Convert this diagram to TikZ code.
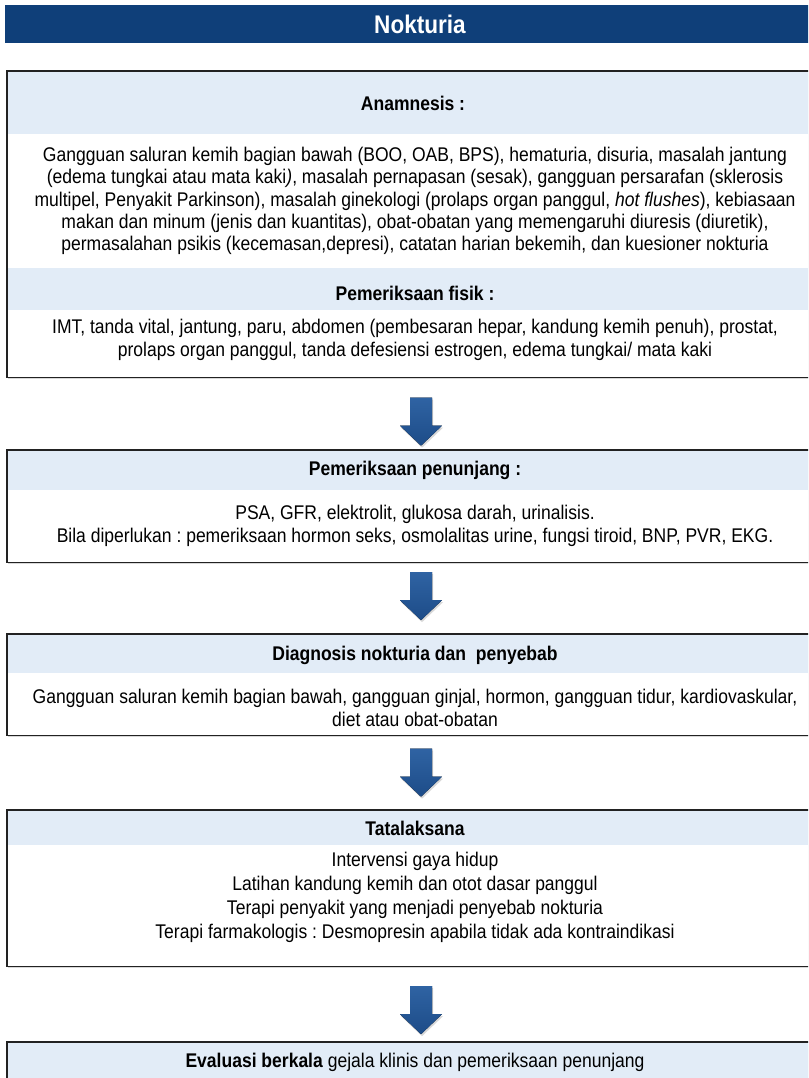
\documentclass[tikz,border=0pt]{standalone}
\usepackage{fontspec}
\setmainfont{Liberation Sans}[FakeStretch=0.885]
\frenchspacing
\usetikzlibrary{shadows,calc}
\definecolor{titleblue}{HTML}{0F3F79}
\definecolor{bandblue}{HTML}{E2ECF7}
\definecolor{arrowtop}{HTML}{2F63A3}
\definecolor{arrowbot}{HTML}{1D4C88}
\definecolor{boxline}{HTML}{222222}
\tikzset{
  band/.style={fill=bandblue, draw=none},
  boxbase/.style={draw=none, fill=white, inner sep=0pt, anchor=north west, minimum width=830pt,
     drop shadow={opacity=0.3, shadow xshift=0.8pt, shadow yshift=-1.6pt}},
  frame/.style={draw=boxline, line width=1.4pt},
  head/.style={font=\bfseries\fontsize{19.8}{22}\selectfont, anchor=center},
  body/.style={font=\fontsize{19.8}{22.4}\selectfont, align=center, anchor=center, inner sep=0pt},
  bigarrow/.style={top color=arrowtop, bottom color=arrowbot, draw=none,
     drop shadow={opacity=0.3, shadow xshift=1pt, shadow yshift=-2pt}},
}
\begin{document}
\begin{tikzpicture}[x=1pt, y=-1pt]
\clip (0,0) rectangle (808,1078);
\fill[white] (0,0) rectangle (808,1078);
% title
\node[fill=titleblue, draw=none, inner sep=0pt, anchor=north west, minimum width=830pt, minimum height=38pt] (title) at (5,5) {};
\node[text=white, font=\bfseries\fontsize{25.5}{28}\selectfont] (titletext) at (420,24) {Nokturia};

% box 1
\node[boxbase, minimum height=306pt] (b1) at (7,71) {};
\fill[band] (b1.north west) rectangle (830,134);
\fill[band] (7,268) rectangle (830,310);
\draw[frame] (b1.north west) rectangle (b1.south east);
\node[head] (h1) at (413,103) {Anamnesis :};
\node[body] (t1) at (415,201) {Gangguan saluran kemih bagian bawah (BOO, OAB, BPS), hematuria, disuria, masalah jantung\\
(edema tungkai atau mata kaki\textit{)}, masalah pernapasan (sesak), gangguan persarafan (sklerosis\\
multipel, Penyakit Parkinson), masalah ginekologi (prolaps organ panggul, \textit{hot flushes}), kebiasaan\\
makan dan minum (jenis dan kuantitas), obat-obatan yang memengaruhi diuresis (diuretik),\\
permasalahan psikis (kecemasan,depresi), catatan harian bekemih, dan kuesioner nokturia};
\node[head] (h1b) at (415,293) {Pemeriksaan fisik :};
\node[body] (t1b) at (415,340) {IMT, tanda vital, jantung, paru, abdomen (pembesaran hepar, kandung kemih penuh), prostat,\\
prolaps organ panggul, tanda defesiensi estrogen, edema tungkai/ mata kaki};

% box 2
\node[boxbase, minimum height=112pt] (b2) at (7,450) {};
\fill[band] (b2.north west) rectangle (830,490);
\draw[frame] (b2.north west) rectangle (b2.south east);
\node[head] (h2) at (415,470) {Pemeriksaan penunjang :};
\node[body] (t2) at (415,526) {PSA, GFR, elektrolit, glukosa darah, urinalisis.\\
Bila diperlukan : pemeriksaan hormon seks, osmolalitas urine, fungsi tiroid, BNP, PVR, EKG.};

% box 3
\node[boxbase, minimum height=101pt] (b3) at (7,634) {};
\fill[band] (b3.north west) rectangle (830,673);
\draw[frame] (b3.north west) rectangle (b3.south east);
\node[head] (h3) at (415,655) {Diagnosis nokturia dan \ penyebab};
\node[body] (t3) at (415,708) {Gangguan saluran kemih bagian bawah, gangguan ginjal, hormon, gangguan tidur, kardiovaskular,\\
diet atau obat-obatan};

% box 4
\node[boxbase, minimum height=156pt] (b4) at (7,810) {};
\fill[band] (b4.north west) rectangle (830,845);
\draw[frame] (b4.north west) rectangle (b4.south east);
\node[head] (h4) at (415,828) {Tatalaksana};
\node[body, font=\fontsize{19.8}{24}\selectfont] (t4) at (415,897) {Intervensi gaya hidup\\
Latihan kandung kemih dan otot dasar panggul\\
Terapi penyakit yang menjadi penyebab nokturia\\
Terapi farmakologis : Desmopresin apabila tidak ada kontraindikasi};

% box 5
\node[boxbase, minimum height=58pt] (b5) at (7,1042) {};
\fill[band] (b5.north west) rectangle (830,1100);
\draw[frame] (b5.north west) rectangle (b5.south east);
\node[body] (t5) at (415,1062) {\textbf{Evaluasi berkala} gejala klinis dan pemeriksaan penunjang};

% arrows
\coordinate (a1) at ($(b1.south west)!0.5!(b2.north west)+(414,-16)$);
\coordinate (a2) at ($(b2.south west)!0.5!(b3.north west)+(414,-26)$);
\coordinate (a3) at ($(b3.south west)!0.5!(b4.north west)+(414,-24)$);
\coordinate (a4) at ($(b4.south west)!0.5!(b5.north west)+(414,-18)$);
\foreach \a in {a1,a2,a3,a4}{
  \fill[bigarrow, shift={(\a)}] (-11,0) -- (11,0) -- (11,28) -- (21,28) -- (0,48) -- (-21,28) -- (-11,28) -- cycle;
}
\end{tikzpicture}
\end{document}
